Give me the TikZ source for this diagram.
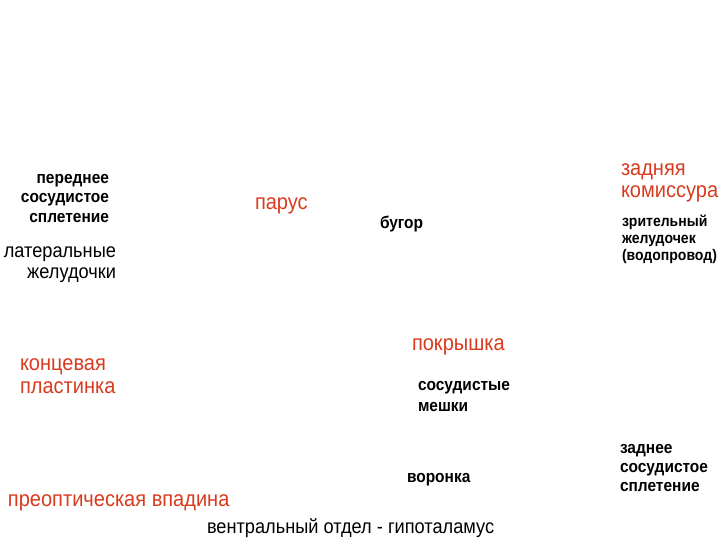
\documentclass[tikz,border=0pt]{standalone}
\usepackage{fontspec}
\setmainfont{Liberation Sans}
\newfontfamily\tallfont[FakeStretch=0.91]{Liberation Sans}
\definecolor{lblred}{HTML}{D83B1E}
\tikzset{
  lbl/.style={inner sep=0pt, outer sep=0pt},
  redlbl/.style={lbl, text=lblred, font=\tallfont\fontsize{22}{22}\selectfont},
  blklbl/.style={lbl, text=black, font=\tallfont\fontsize{20}{21}\selectfont},
  boldlbl/.style={lbl, text=black, font=\tallfont\fontsize{17}{19.5}\selectfont\bfseries},
  smallbold/.style={lbl, text=black, font=\tallfont\fontsize{15.4}{17}\selectfont\bfseries}
}
\begin{document}
\begin{tikzpicture}[x=1pt,y=-1pt]
\useasboundingbox[fill=white] (0,0) rectangle (720,540);
\node[boldlbl, align=right, anchor=east] (pvs) at (109,198) {переднее\\сосудистое\\сплетение};
\node[blklbl, align=right, anchor=east] (lat) at (116,265) {латеральные\\желудочки};
\node[redlbl, anchor=west] (parus) at (255,206) {парус};
\node[boldlbl, anchor=west] (bugor) at (380,224) {бугор};
\node[redlbl, align=left, anchor=west, font=\tallfont\fontsize{22}{22}\selectfont] (zk) at (621,183) {задняя\\комиссура};
\node[smallbold, align=left, anchor=west] (zrit) at (622,239) {зрительный\\желудочек\\(водопровод)};
\node[redlbl, anchor=west] (pokr) at (412,347) {покрышка};
\node[redlbl, align=left, anchor=west, font=\tallfont\fontsize{22}{23}\selectfont] (konc) at (20,376) {концевая\\пластинка};
\node[boldlbl, align=left, anchor=west, font=\tallfont\fontsize{17}{21}\selectfont\bfseries] (sosm) at (418,397) {сосудистые\\мешки};
\node[boldlbl, align=left, anchor=west, font=\tallfont\fontsize{17}{19}\selectfont\bfseries] (zadn) at (620,468) {заднее\\сосудистое\\сплетение};
\node[boldlbl, anchor=west] (vor) at (407,480) {воронка};
\node[redlbl, anchor=west] (preopt) at (8,503) {преоптическая впадина};
\node[blklbl, anchor=west] (ventr) at (207,528) {вентральный отдел - гипоталамус};
\end{tikzpicture}
\end{document}
